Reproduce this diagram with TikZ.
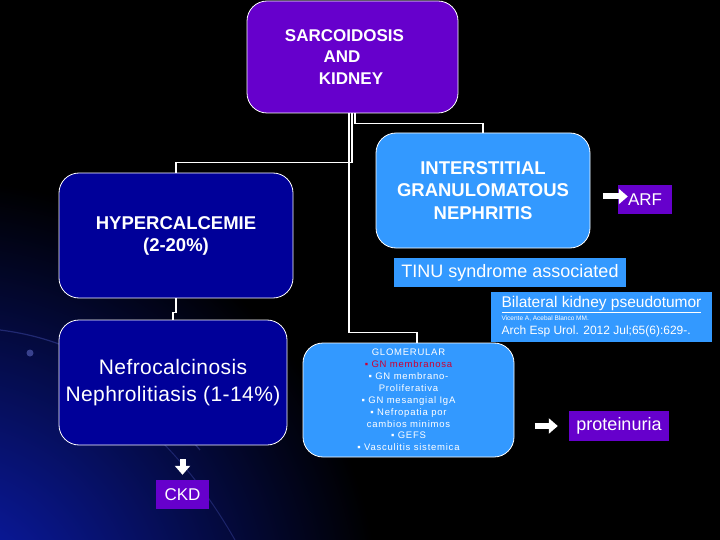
\documentclass[tikz,border=0pt]{standalone}
\usepackage{fontspec}
\setmainfont{Liberation Sans}
\usetikzlibrary{arrows.meta}
\definecolor{purp}{RGB}{102,0,204}
\definecolor{dblue}{RGB}{0,0,153}
\definecolor{lblue}{RGB}{51,153,255}
\definecolor{gred}{RGB}{204,0,51}
\definecolor{glow}{RGB}{12,30,190}
\begin{document}
\begin{tikzpicture}[x=1pt,y=-1pt,
  box/.style={draw=white, line width=0.8pt, rounded corners=20pt, text=white, align=center, inner sep=0pt},
  flat/.style={inner sep=0pt, text=white, align=center},
  conn/.style={draw=white, line width=1.5pt},
  blockarrow/.style={draw=white, line width=6pt, -{Triangle[length=9pt,width=15pt]}}]
\useasboundingbox (0,0) rectangle (720,540);
\fill[black] (0,0) rectangle (720,540);
\begin{scope}
\clip (0,0) rectangle (720,540);
\shade[inner color=glow, outer color=black] (-60,620) circle (440);
\draw[glow!70!white, opacity=0.35, line width=1.2pt] (0,330) .. controls (80,340) and (140,380) .. (200,450);
\draw[glow!70!white, opacity=0.3, line width=1pt] (160,440) .. controls (190,470) and (215,505) .. (235,540);
\fill[glow!60!white, opacity=0.5] (30,353) circle (3.5);
\end{scope}

% main boxes
\node[box, fill=purp, minimum width=211pt, minimum height=112pt, font={\fontsize{17}{21.5}\selectfont\bfseries}] (sk) at (352.5,57)
  {\hspace*{-16pt}SARCOIDOSIS\\\hspace*{-21pt}AND\\\hspace*{-3pt}KIDNEY};
\node[box, fill=lblue, minimum width=214pt, minimum height=115pt, font={\fontsize{18.5}{22.5}\selectfont\bfseries}] (int) at (483,190.5)
  {INTERSTITIAL\\GRANULOMATOUS\\NEPHRITIS};
\node[box, fill=dblue, minimum width=234pt, minimum height=125pt, font={\fontsize{18.5}{22}\selectfont\bfseries}] (hyp) at (176,235.5)
  {\raisebox{-2pt}{HYPERCALCEMIE}\\\raisebox{-2pt}{(2-20\%)}};
\node[box, fill=dblue, minimum width=228pt, minimum height=125pt, font={\fontsize{21}{27}\selectfont\addfontfeature{LetterSpace=2}}] (nefro) at (173,382.5)
  {\raisebox{-3pt}{Nefrocalcinosis}\\\raisebox{-3pt}{Nephrolitiasis (1-14\%)}};
\node[box, fill=lblue, minimum width=211pt, minimum height=114pt, font={\fontsize{9.5}{11.9}\selectfont\addfontfeature{LetterSpace=8}}] (glom) at (408.5,400)
  {GLOMERULAR\\
   \textcolor{gred}{▪ GN membranosa}\\
   ▪ GN membrano-\\ Proliferativa\\ ▪ GN mesangial IgA\\ ▪ Nefropatia por\\ cambios minimos\\ ▪ GEFS\\ ▪ Vasculitis sistemica};

% flat labels
\node[flat, fill=lblue, minimum width=232pt, minimum height=29pt, font={\fontsize{18}{20}\selectfont}] (tinu) at (510,272.5)
  {TINU syndrome associated};
\node[flat, fill=lblue, minimum width=221pt, minimum height=50pt, align=left, font={\fontsize{12}{13.5}\selectfont}] (bil) at (601.5,317)
  {{\fontsize{15.5}{15}\selectfont\underline{Bilateral kidney pseudotumor}}\\[-1pt]
   {\fontsize{6.5}{8}\selectfont Vicente A, Acebal Blanco MM.}\\[1pt]
   Arch Esp Urol. 2012 Jul;65(6):629-.};
\node[flat, fill=purp, minimum width=54pt, minimum height=29pt, font={\fontsize{17}{20}\selectfont}] (arf) at (645,199.5)
  {ARF};
\node[flat, fill=purp, minimum width=100pt, minimum height=30pt, font={\fontsize{18}{20}\selectfont}] (prot) at (619,426)
  {proteinuria};
\node[flat, fill=purp, minimum width=53pt, minimum height=29pt, font={\fontsize{17}{20}\selectfont}] (ckd) at (182.5,494.5)
  {CKD};

% connectors
\draw[conn] ([xshift=2.5pt]sk.south) |- ([yshift=9pt]int.north) -- (int.north);
\draw[conn] ([xshift=-0.5pt]sk.south) |- ([yshift=10pt]hyp.north) -- (hyp.north);
\draw[conn] ([xshift=-3.5pt]sk.south) |- ([xshift=8.5pt,yshift=10pt]glom.north) -- ([xshift=8.5pt]glom.north);
\draw[conn] (hyp.south) -- ++(0,14) -| (nefro.north);

% block arrows
\draw[blockarrow] ([yshift=-14pt]nefro.south -| ckd.north) -- ([yshift=5pt]ckd.north);
\draw[blockarrow] ([xshift=-15pt,yshift=3pt]arf.west) -- ([xshift=10pt,yshift=3pt]arf.west);
\draw[blockarrow] ([xshift=-34pt]prot.west) -- ([xshift=-11pt]prot.west);
\end{tikzpicture}
\end{document}
